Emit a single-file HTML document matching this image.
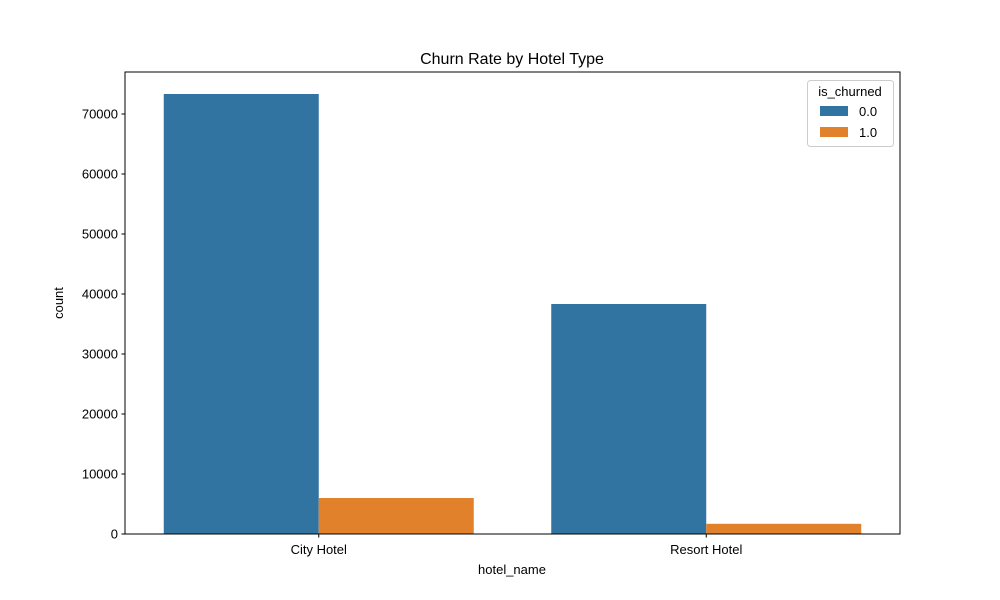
<!DOCTYPE html>
<html><head><meta charset="utf-8"><style>
body{margin:0;background:#fff;}
svg{display:block;font-family:"Liberation Sans","DejaVu Sans",sans-serif;}
</style></head><body>
<svg id="chart" width="1000" height="600">
<text x="512" y="64" text-anchor="middle" font-size="16">Churn Rate by Hotel Type</text>
<g id="bars"></g>
<g id="yaxis"></g>
<g id="xaxis"></g>
<rect x="125" y="72" width="775" height="462" fill="none" stroke="#000" stroke-width="1"/>
<text x="63" y="303" text-anchor="middle" font-size="13" transform="rotate(-90 63 303)">count</text>
<text x="512" y="574" text-anchor="middle" font-size="13">hotel_name</text>
<g>
<rect x="807.5" y="80.5" width="86" height="66" rx="3" fill="#fff" fill-opacity="0.8" stroke="#ccc"/>
<text x="850" y="96" text-anchor="middle" font-size="13">is_churned</text>
<rect x="820" y="106" width="28" height="10" fill="#3274a1"/>
<text x="859" y="116" font-size="13">0.0</text>
<rect x="820" y="127" width="28" height="10" fill="#e1812c"/>
<text x="859" y="137" font-size="13">1.0</text>
</g>
</svg>
<script>
const categories=["City Hotel","Resort Hotel"];
const notChurned=[73333,38333];
const churned=[6000,1700];
const yTicks=[0,10000,20000,30000,40000,50000,60000,70000];
const colors=["#3274a1","#e1812c"];
const NS="http://www.w3.org/2000/svg";
const L=125,R=900,T=72,B=534;
const ymax=Math.max(...notChurned,...churned)*1.05;
const y=v=>B-(v/ymax)*(B-T);
const step=(R-L)/categories.length;
const x=i=>L+step*(i+0.5);
const bw=step*0.4;
function mk(t,a,p){const e=document.createElementNS(NS,t);for(const k in a)e.setAttribute(k,a[k]);p.appendChild(e);return e;}
const bars=document.getElementById('bars');
[notChurned,churned].forEach((s,si)=>{
 s.forEach((v,i)=>{
  const r=mk('rect',{x:x(i)-bw+si*bw,y:y(v),width:bw,height:B-y(v),fill:colors[si]},bars);
  
  
 });
});
const ya=document.getElementById('yaxis');
yTicks.forEach(t=>{
 const yy=y(t);
 const l=mk('line',{x1:L-3.5,x2:L,y1:yy,y2:yy,stroke:'#000'},ya);
 
 
 const tx=mk('text',{x:L-7,y:yy+4.5,'text-anchor':'end','font-size':13},ya);
 tx.textContent=t;
 
 
});
const xa=document.getElementById('xaxis');
categories.forEach((c,i)=>{
 const l=mk('line',{x1:x(i),x2:x(i),y1:B,y2:B+3.5,stroke:'#000'},xa);
 
 
 const tx=mk('text',{x:x(i),y:B+20,'text-anchor':'middle','font-size':13},xa);
 tx.textContent=c;
 
 
});
</script>
</body></html>
